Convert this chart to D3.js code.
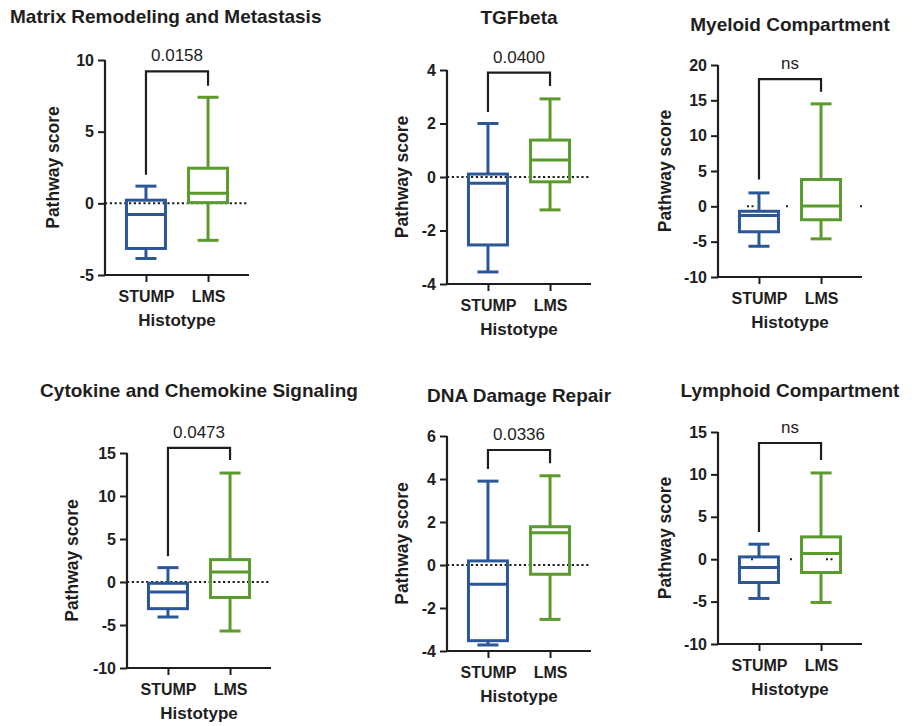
<!DOCTYPE html>
<html>
<head>
<meta charset="utf-8">
<script src="https://cdn.jsdelivr.net/npm/d3@7"></script>
<style>
  body { margin: 0; background: #fff; }
  svg { display: block; font-family: "Liberation Sans", Arial, sans-serif; }
  .tick text { font-weight: bold; font-size: 16px; fill: #1e1e1e; }
</style>
</head>
<body>
<svg width="912" height="726"></svg>
<script>
// pathway names, one panel each
const titles = [
    "Matrix Remodeling and Metastasis", "TGFbeta", "Myeloid Compartment",
    "Cytokine and Chemokine Signaling", "DNA Damage Repair", "Lymphoid Compartment"
];
const groups = ["STUMP", "LMS"];
const pLabels = ["0.0158", "0.0400", "ns", "0.0473", "0.0336", "ns"];

// y ranges + ticks
const yDomains = [[-5, 10], [-4, 4], [-10, 20], [-10, 15], [-4, 6], [-10, 15]];
const yTicks = [
    [-5, 0, 5, 10],
    [-4, -2, 0, 2, 4],
    [-10, -5, 0, 5, 10, 15, 20],
    [-10, -5, 0, 5, 10, 15],
    [-4, -2, 0, 2, 4, 6],
    [-10, -5, 0, 5, 10, 15]
];

// box stats: [min, q1, median, q3, max]
const stumpStats = [
    [-3.85, -3.15, -0.78, 0.22, 1.2],
    [-3.55, -2.54, -0.23, 0.11, 2.0],
    [-5.65, -3.6, -1.3, -0.7, 1.9],
    [-4.07, -3.1, -1.15, -0.15, 1.67],
    [-3.72, -3.52, -0.9, 0.19, 3.9],
    [-4.63, -2.75, -0.98, 0.27, 1.77]
];
const lmsStats = [
    [-2.58, 0.05, 0.7, 2.45, 7.4],
    [-1.23, -0.18, 0.64, 1.38, 2.92],
    [-4.6, -1.9, 0.05, 3.8, 14.5],
    [-5.7, -1.8, 1.15, 2.6, 12.67],
    [-2.53, -0.43, 1.5, 1.78, 4.15],
    [-5.1, -1.57, 0.67, 2.63, 10.17]
];

// significance bracket: [top, left leg end, right leg end]
const brackets = [
    [9.2, 2.0, 8.2],
    [3.9, 2.43, 3.4],
    [18.0, 3.8, 16.2],
    [15.6, 3.0, 14.2],
    [5.35, 4.47, 4.73],
    [13.7, 3.2, 11.7]
];

// layout of each panel (pixels); zero line dash styles
const layout = [
    { left: 105, top: 60, bottom: 275, titleX: 10, titleAnchor: "start", titleY: 23, labelX: -52, dotStart: 0, dash: "2.2,2.6" },
    { left: 447, top: 70, bottom: 284, titleX: null, titleAnchor: "middle", titleY: 24, labelX: -45, dotStart: 0, dash: "2.2,2.6" },
    { left: 718, top: 65, bottom: 277, titleX: null, titleAnchor: "middle", titleY: 31, labelX: -53, dotStart: 29, dash: "2,2.5,2,32.5,2,72,2,200" },
    { left: 127, top: 453, bottom: 668, titleX: null, titleAnchor: "middle", titleY: 397, labelX: -55, dotStart: 0, dash: "2.2,2.6" },
    { left: 447, top: 436, bottom: 651, titleX: null, titleAnchor: "middle", titleY: 402, labelX: -45, dotStart: 0, dash: "2.2,2.6" },
    { left: 718, top: 432, bottom: 644, titleX: null, titleAnchor: "middle", titleY: 397, labelX: -53, dotStart: 33, dash: "2,37,2,34,2,2.5,2,200" }
];

const colors = ["#2c5797", "#5b9a2c"];
const ink = "#1e1e1e";
const plotW = 144;
const boxW = 39;
const capW = 21;

const svg = d3.select("svg");

titles.forEach(function (title, i) {
    const L = layout[i];
    const g = svg.append("g").attr("transform", "translate(" + L.left + ",0)");

    const y = d3.scaleLinear().domain(yDomains[i]).range([L.bottom, L.top]);
    const x = d3.scalePoint().domain(groups).range([0, plotW]).padding(0.66);

    // title
    svg.append("text")
        .attr("x", L.titleX == null ? L.left + plotW / 2 : L.titleX)
        .attr("y", L.titleY)
        .attr("text-anchor", L.titleAnchor)
        .attr("font-weight", "bold")
        .attr("font-size", 19)
        .attr("fill", ink)
        .text(title);

    // zero line (dotted)
    g.append("line")
        .attr("x1", L.dotStart).attr("x2", plotW)
        .attr("y1", y(0)).attr("y2", y(0))
        .attr("stroke", ink)
        .attr("stroke-width", 2)
        .attr("stroke-dasharray", L.dash);

    // boxes
    const stats = [stumpStats[i], lmsStats[i]];
    stats.forEach(function (s, k) {
        const cx = x(groups[k]);
        const bg = g.append("g")
            .attr("stroke", colors[k])
            .attr("stroke-width", 3)
            .attr("fill", "none");
        // whiskers
        bg.append("line").attr("x1", cx).attr("x2", cx).attr("y1", y(s[4])).attr("y2", y(s[3]));
        bg.append("line").attr("x1", cx).attr("x2", cx).attr("y1", y(s[1])).attr("y2", y(s[0]));
        bg.append("line").attr("x1", cx - capW / 2).attr("x2", cx + capW / 2).attr("y1", y(s[4])).attr("y2", y(s[4]));
        bg.append("line").attr("x1", cx - capW / 2).attr("x2", cx + capW / 2).attr("y1", y(s[0])).attr("y2", y(s[0]));
        // box
        bg.append("rect")
            .attr("x", cx - boxW / 2)
            .attr("y", y(s[3]))
            .attr("width", boxW)
            .attr("height", y(s[1]) - y(s[3]));
        // median
        bg.append("line").attr("x1", cx - boxW / 2).attr("x2", cx + boxW / 2).attr("y1", y(s[2])).attr("y2", y(s[2]));
    });

    // axes
    const yAxis = g.append("g")
        .call(d3.axisLeft(y).tickValues(yTicks[i]).tickFormat(function (d) { return String(d); })
            .tickSize(7).tickPadding(4).tickSizeOuter(0));
    const xAxis = g.append("g")
        .attr("transform", "translate(0," + L.bottom + ")")
        .call(d3.axisBottom(x).tickSize(7).tickPadding(6).tickSizeOuter(0));
    [yAxis, xAxis].forEach(function (a) {
        a.select(".domain").attr("stroke", ink).attr("stroke-width", 2.2);
        a.selectAll(".tick line").attr("stroke", ink).attr("stroke-width", 2);
    });
    xAxis.select(".domain").attr("d", "M-1,0H" + plotW);
    yAxis.select(".domain").attr("d", "M0," + L.top + "V" + (L.bottom + 1));
    xAxis.selectAll(".tick text").attr("dy", "0.9em");

    // axis titles
    g.append("text")
        .attr("transform", "translate(" + L.labelX + "," + ((L.top + L.bottom) / 2) + ")rotate(-90)")
        .attr("text-anchor", "middle")
        .attr("dy", "0.35em")
        .attr("font-weight", "bold")
        .attr("font-size", 17.5)
        .attr("fill", ink)
        .text("Pathway score");
    g.append("text")
        .attr("x", plotW / 2)
        .attr("y", L.bottom + 51)
        .attr("text-anchor", "middle")
        .attr("font-weight", "bold")
        .attr("font-size", 17)
        .attr("fill", ink)
        .text("Histotype");

    // bracket
    const b = brackets[i];
    const x1 = x(groups[0]), x2 = x(groups[1]);
    g.append("path")
        .attr("d", "M" + x1 + "," + y(b[1]) + "V" + y(b[0]) + "H" + x2 + "V" + y(b[2]))
        .attr("fill", "none")
        .attr("stroke", ink)
        .attr("stroke-width", 2.2);
    g.append("text")
        .attr("x", (x1 + x2) / 2)
        .attr("y", y(b[0]) - 10)
        .attr("text-anchor", "middle")
        .attr("font-size", 17)
        .attr("fill", ink)
        .text(pLabels[i]);
});
</script>
</body>
</html>
